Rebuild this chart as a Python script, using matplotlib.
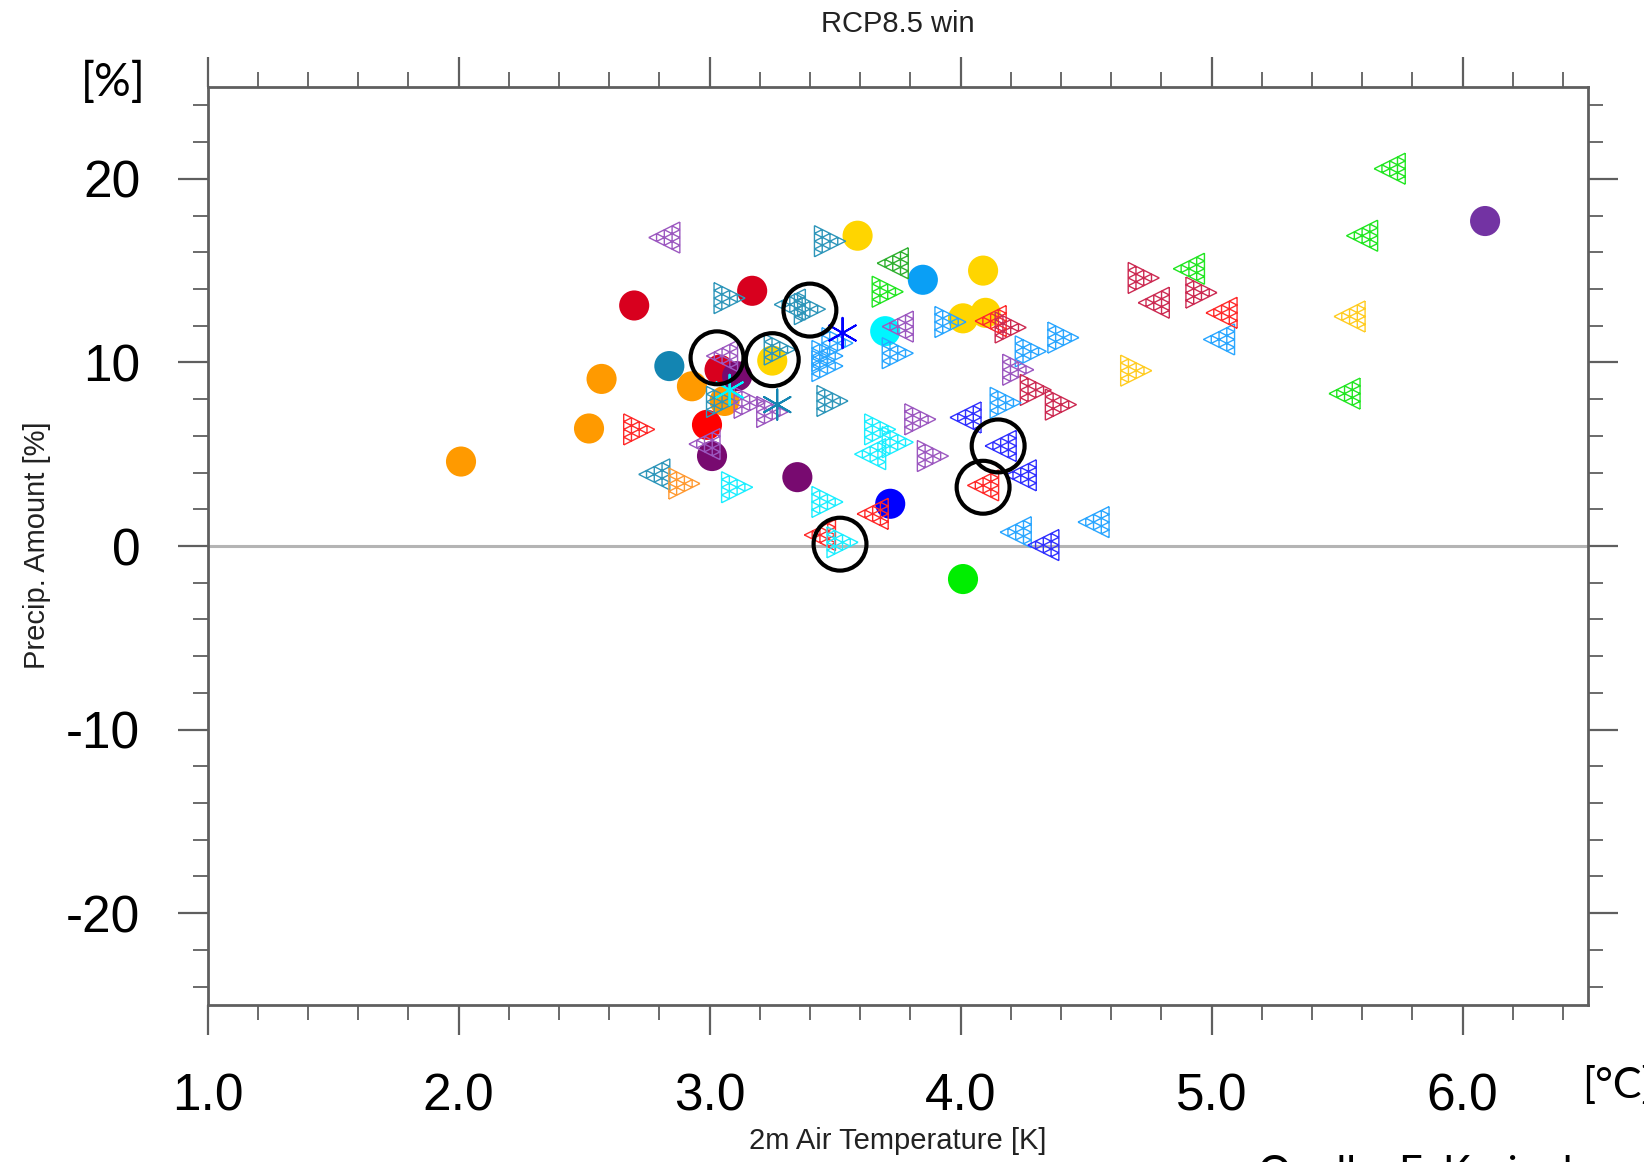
import numpy as np
import matplotlib
matplotlib.use("Agg")
import matplotlib.pyplot as plt
from matplotlib.path import Path

# ---------------- data ----------------
title = "RCP8.5 win"
x_label = "2m Air Temperature [K]"
y_label = "Precip. Amount [%]"
x_ticks = [1.0, 2.0, 3.0, 4.0, 5.0, 6.0]
x_tick_labels = ["1.0", "2.0", "3.0", "4.0", "5.0", "6.0"]
y_ticks = [-20, -10, 0, 10, 20]
y_tick_labels = ["-20", "-10", "0", "10", "20"]

palette = {
    "orange": "#ff9a00", "teal": "#1385b2", "crimson": "#d8001e", "red": "#ff0000",
    "darkpurple": "#780a70", "yellow": "#ffd500", "lightblue": "#0a9ff5",
    "cyan": "#00f6ff", "blue": "#0000ff", "green": "#00ee00", "purple": "#7333a3",
}
tri_palette = {
    "orange": "#ff9a33", "teal": "#2e96ba", "crimson": "#cc2a52", "red": "#ff2a2a",
    "purple": "#9c58c0", "yellow": "#ffcc22", "lightblue": "#2aa6ff",
    "cyan": "#1ceeff", "blue": "#3030ff", "green": "#22e622", "darkgreen": "#2fb02f",
}

# filled circles
circ_x = [2.01, 2.52, 2.57, 2.93, 3.06, 2.84, 2.70, 3.17, 3.04, 2.99, 3.11, 3.01,
          3.35, 3.59, 4.09, 4.01, 4.10, 3.25, 3.85, 3.70, 3.72, 4.01, 6.09]
circ_y = [4.6, 6.4, 9.1, 8.7, 7.9, 9.8, 13.1, 13.9, 9.6, 6.6, 9.25, 4.9,
          3.75, 16.9, 15.0, 12.4, 12.7, 10.1, 14.5, 11.7, 2.3, -1.8, 17.7]
circ_c = ["orange", "orange", "orange", "orange", "orange", "teal", "crimson", "crimson",
          "crimson", "red", "darkpurple", "darkpurple", "darkpurple", "yellow", "yellow",
          "yellow", "yellow", "yellow", "lightblue", "cyan", "blue", "green", "purple"]

# left-pointing hatched triangles
left_x = [2.82, 3.73, 3.32, 3.75, 3.05, 2.98, 2.78, 4.02, 3.64, 4.16, 4.24, 4.09, 4.22,
          4.33, 4.53, 3.65, 3.44, 4.12, 5.03, 5.71, 5.60, 4.91, 4.77, 5.04, 5.55, 5.53]
left_y = [16.8, 15.4, 13.15, 11.95, 10.35, 5.55, 3.9, 7.0, 5.0, 5.45, 3.85, 3.3, 0.75,
          0.05, 1.3, 1.75, 0.6, 12.25, 11.25, 20.55, 16.9, 15.1, 13.25, 12.7, 12.5, 8.3]
left_c = ["purple", "darkgreen", "teal", "purple", "purple", "purple", "teal", "blue",
          "cyan", "blue", "blue", "red", "lightblue", "blue", "lightblue", "red", "red",
          "red", "lightblue", "green", "green", "green", "crimson", "red", "yellow", "green"]

# right-pointing hatched triangles
right_x = [3.48, 3.71, 3.08, 3.40, 3.96, 3.75, 3.51, 3.47, 3.28, 3.49, 3.05, 3.16, 3.25,
           2.72, 2.90, 3.11, 3.84, 3.68, 3.75, 3.89, 4.28, 4.41, 4.23, 4.30, 4.40, 4.18,
           4.70, 3.47, 3.53, 4.20, 4.73, 4.96, 3.47]
right_y = [16.6, 13.85, 13.5, 12.9, 12.2, 10.5, 11.05, 9.8, 10.7, 7.9, 7.85, 7.8, 7.3,
           6.35, 3.4, 3.2, 6.9, 6.35, 5.65, 4.9, 10.6, 11.35, 9.6, 8.5, 7.7, 7.8,
           9.55, 2.4, 0.2, 11.9, 14.6, 13.8, 10.35]
right_c = ["teal", "green", "teal", "teal", "lightblue", "lightblue", "lightblue",
           "lightblue", "teal", "teal", "teal", "purple", "purple", "red", "orange", "cyan",
           "purple", "cyan", "cyan", "purple", "lightblue", "lightblue", "purple", "crimson",
           "crimson", "lightblue", "yellow", "cyan", "cyan", "crimson", "crimson", "crimson",
           "lightblue"]

# asterisks
star_x = [3.53, 3.08, 3.27]
star_y = [11.6, 8.5, 7.7]
star_c = ["blue", "cyan", "teal"]

# highlighted members (open black circles)
hl_x = [3.03, 3.25, 3.40, 4.15, 4.09, 3.52]
hl_y = [10.25, 10.15, 12.85, 5.45, 3.2, 0.1]


# ---------------- marker shapes ----------------
def lattice_triangle(direction, n=4):
    if direction == "left":
        A, B, C = np.array([-1.0, 0.0]), np.array([1.0, 1.0]), np.array([1.0, -1.0])
    else:
        A, B, C = np.array([1.0, 0.0]), np.array([-1.0, 1.0]), np.array([-1.0, -1.0])
    verts, codes = [], []

    def seg(p, q):
        verts.extend([p, q])
        codes.extend([Path.MOVETO, Path.LINETO])

    seg(A, B); seg(B, C); seg(C, A)
    for k in range(1, n):
        t = k / n
        seg(A + t * (B - A), A + t * (C - A))
        seg(B + t * (C - B), B + t * (A - B))
        seg(C + t * (A - C), C + t * (B - C))
    return Path(np.array(verts), codes)


left_marker = lattice_triangle("left")
right_marker = lattice_triangle("right")

# ---------------- figure ----------------
W, H = 1644, 1162
fig = plt.figure(figsize=(W / 100, H / 100), dpi=100)
fig.patch.set_facecolor("white")
ax = fig.add_axes([207.5 / W, 1 - 1005 / H, (1588 - 207.5) / W, (1005 - 87) / H])

font = "Liberation Sans"
frame_c = "#5f5f5f"

ax.axhline(0, color="#b4b4b4", lw=2.2, zorder=1)

ax.scatter(circ_x, circ_y, s=470, c=[palette[k] for k in circ_c], linewidths=0, zorder=2)
ax.scatter(left_x, left_y, s=500, marker=left_marker, facecolors="none",
           edgecolors=[tri_palette[k] for k in left_c], linewidths=1.0, zorder=3)
ax.scatter(right_x, right_y, s=500, marker=right_marker, facecolors="none",
           edgecolors=[tri_palette[k] for k in right_c], linewidths=1.0, zorder=3)
ax.scatter(star_x, star_y, s=480, marker=(6, 2, 0), c=[palette[k] for k in star_c],
           linewidths=1.4, zorder=4)
ax.scatter(hl_x, hl_y, s=1450, facecolors="none", edgecolors="black", linewidths=3.0, zorder=5)

ax.set_xlim(1.0, 6.5)
ax.set_ylim(-25, 25)
ax.set_xticks(x_ticks)
ax.set_xticklabels(x_tick_labels)
ax.set_yticks(y_ticks)
ax.set_yticklabels(y_tick_labels)
ax.set_xticks(np.arange(1.2, 6.5, 0.2), minor=True)
ax.set_yticks(np.arange(-24, 25, 2), minor=True)

ax.tick_params(which="both", direction="out", top=True, right=True, color=frame_c)
ax.tick_params(which="major", length=21.5, width=1.6, pad=27, labelsize=37)
ax.tick_params(which="minor", length=11, width=1.3)
for lab in ax.get_xticklabels() + ax.get_yticklabels():
    lab.set_fontfamily(font)
for sp in ax.spines.values():
    sp.set_color(frame_c)
    sp.set_linewidth(2.0)

fig.text(897.8 / W, 1 - 24 / H, title, ha="center", va="center", fontsize=21,
         family=font, color="#222222")
fig.text(897.8 / W, 1 - 1141 / H, x_label, ha="center", va="center", fontsize=21,
         family=font, color="#222222")
fig.text(37 / W, 1 - 545.5 / H, y_label, ha="center", va="center", rotation=90,
         fontsize=21, family=font, color="#222222")

fig.text(113 / W, 1 - 82 / H, "[%]", ha="center", va="center", fontsize=33, family="Lato")
fig.text(1582 / W, 1 - 1086 / H, "[°C]", ha="left", va="center", fontsize=31, family="Lato")
fig.text(1258 / W, 1 - 1186 / H, "Quelle: F. Kreienkamp", ha="left", va="baseline",
         fontsize=30, family="Lato")

fig.savefig("out.png", dpi=100)
